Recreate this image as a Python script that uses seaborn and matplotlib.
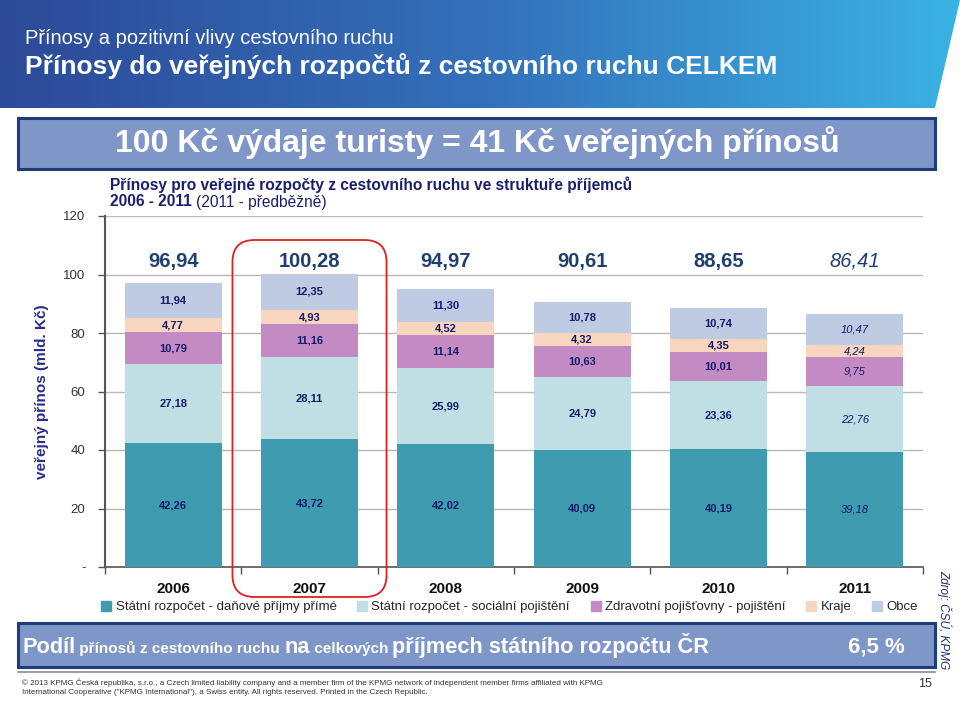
import numpy as np
import pandas as pd
import matplotlib
matplotlib.use("Agg")
import matplotlib.pyplot as plt
import seaborn as sns
from matplotlib import font_manager
from matplotlib.patches import FancyBboxPatch, Rectangle, Polygon
from matplotlib.lines import Line2D
from matplotlib.colors import LinearSegmentedColormap

# ---------------- data ----------------
years = ["2006", "2007", "2008", "2009", "2010", "2011"]
dan_prime = [42.26, 43.72, 42.02, 40.09, 40.19, 39.18]
soc_poj = [27.18, 28.11, 25.99, 24.79, 23.36, 22.76]
zdrav_poj = [10.79, 11.16, 11.14, 10.63, 10.01, 9.75]
kraje = [4.77, 4.93, 4.52, 4.32, 4.35, 4.24]
obce = [11.94, 12.35, 11.30, 10.78, 10.74, 10.47]
totals = ["96,94", "100,28", "94,97", "90,61", "88,65", "86,41"]
series_names = ["Státní rozpočet - daňové příjmy přímé",
                "Státní rozpočet - sociální pojištění",
                "Zdravotní pojišťovny - pojištění",
                "Kraje", "Obce"]
y_ticks = [0, 20, 40, 60, 80, 100, 120]
y_ticklabels = ["-", "20", "40", "60", "80", "100", "120"]

colors = ["#3F9BAF", "#BFDFE4", "#C48AC4", "#F7D5BF", "#BFCAE3"]

# ---------------- fonts ----------------
avail = {f.name for f in font_manager.fontManager.ttflist}
REG = "Liberation Sans" if "Liberation Sans" in avail else "DejaVu Sans"
NAR = "Liberation Sans Narrow" if "Liberation Sans Narrow" in avail else REG

sns.set_theme(style="white")
plt.rcParams["font.family"] = [REG, "DejaVu Sans"]

W, H = 960, 702
fig = plt.figure(figsize=(W / 100, H / 100), dpi=100)

def fx(px):
    return px / W

def fy(py):
    return 1 - py / H

# ---------------- header band with gradient ----------------
hax = fig.add_axes([0, fy(110), 1, 110 / H])
hax.set_xlim(0, W)
hax.set_ylim(110, 0)
hax.axis("off")
cmap = LinearSegmentedColormap.from_list("hdr", ["#2C4A98", "#3470BA", "#3AB2E4"])
grad = np.linspace(0, 1, 256).reshape(1, -1)
im = hax.imshow(grad, extent=[0, W, 110, 0], aspect="auto", cmap=cmap)
clip = Polygon([[0, 0], [W, 0], [935, 108], [0, 108]], closed=True,
               transform=hax.transData, facecolor="none", edgecolor="none")
hax.add_patch(clip)
im.set_clip_path(clip)
fig.text(fx(25), fy(39), "Přínosy a pozitivní vlivy cestovního ruchu",
         family=[NAR, "DejaVu Sans"], fontsize=14.5, color="white", va="center")
fig.text(fx(25), fy(66), "Přínosy do veřejných rozpočtů z cestovního ruchu CELKEM",
         family=[NAR, "DejaVu Sans"], fontsize=19, color="white",
         fontweight="bold", va="center")

# ---------------- title box ----------------
fig.patches.append(Rectangle((fx(18), fy(169)), fx(917), (169 - 118) / H,
                             transform=fig.transFigure, facecolor="#7F96C9",
                             edgecolor="#1D3B7D", linewidth=2.2))
fig.text(fx(477), fy(143), "100 Kč výdaje turisty = 41 Kč veřejných přínosů",
         fontsize=23, color="white", fontweight="bold", ha="center", va="center")

# chart subtitle
navy = "#1B1F6E"
fig.text(fx(110), fy(185), "Přínosy pro veřejné rozpočty z cestovního ruchu ve struktuře příjemců",
         fontsize=11.2, color=navy, fontweight="bold", va="center")
t1 = fig.text(fx(110), fy(202), "2006 - 2011", fontsize=11.2, color=navy,
              fontweight="bold", va="center")
fig.canvas.draw()
bb = t1.get_window_extent()
fig.text(bb.x1 / W + 0.004, fy(202), "(2011 - předběžně)", fontsize=11.2,
         color=navy, va="center")

# ---------------- main axes ----------------
ax = fig.add_axes([fx(105), fy(567), fx(923 - 105), (567 - 216) / H])

df = pd.DataFrame({"year": years, "s0": dan_prime, "s1": soc_poj,
                   "s2": zdrav_poj, "s3": kraje, "s4": obce})
cols = ["s0", "s1", "s2", "s3", "s4"]
cum = df[cols].cumsum(axis=1)

# draw from the top (largest cumulative) down so smaller stacks overlay
for i in range(4, -1, -1):
    sns.barplot(x=df["year"], y=cum[cols[i]], color=colors[i], ax=ax,
                width=0.71, linewidth=0, saturation=1, errorbar=None, zorder=3)

ax.set_ylim(0, 120)
ax.set_xlim(-0.5, 5.5)
ax.set_yticks(y_ticks)
ax.set_yticklabels(y_ticklabels, fontsize=9.5, color="#333333")
ax.yaxis.grid(True, color="#B8B8B8", linewidth=1)
ax.set_axisbelow(True)
for s in ["top", "right"]:
    ax.spines[s].set_visible(False)
ax.spines["left"].set_color("#555555")
ax.spines["left"].set_linewidth(1.5)
ax.spines["bottom"].set_color("#555555")
ax.spines["bottom"].set_linewidth(1.2)
ax.tick_params(axis="y", left=True, length=5, width=1, color="#555555", pad=9)
ax.set_xticks(range(len(years)))
ax.set_xticklabels(years, fontsize=11, fontweight="bold", color="#111111")
ax.tick_params(axis="x", bottom=False, pad=5)
# category boundary ticks
ax.set_xticks(np.arange(-0.5, 6.0, 1.0), minor=True)
ax.tick_params(axis="x", which="minor", bottom=True, length=5, width=1, color="#555555")
ax.set_xlabel("")
ax.set_ylabel("veřejný přínos (mld. Kč)", fontsize=11, fontweight="bold",
              color="#2A2C8C", labelpad=10)

# segment labels
seg_color = "#141A6A"
for j in range(len(years)):
    base = 0
    for i, c in enumerate(cols):
        v = df[c][j]
        style = "italic" if j == 5 else "normal"
        weight = "normal" if j == 5 else "bold"
        ax.text(j, base + v / 2, f"{v:.2f}".replace(".", ","), ha="center",
                va="center", fontsize=8, color=seg_color, fontweight=weight,
                fontstyle=style, zorder=5)
        base += v
    ax.text(j, 104.5, totals[j], ha="center", va="center", fontsize=14.5,
            color="#1F3F70", fontweight="normal" if j == 5 else "bold",
            fontstyle="italic" if j == 5 else "normal", zorder=5)

# red rounded highlight around 2007
fig.canvas.draw()
p0 = ax.transData.transform((1 - 0.565, 0))
p1 = ax.transData.transform((1 + 0.565, 0))
x0d, x1d = p0[0], p1[0]
ytop = H - 240
ybot = H - 597
hl = FancyBboxPatch((x0d, ybot), x1d - x0d, ytop - ybot,
                    boxstyle="round,pad=0,rounding_size=22",
                    transform=None, facecolor="none", edgecolor="#E02020",
                    linewidth=1.3, zorder=10)
fig.patches.append(hl)

# legend
handles = [Line2D([0], [0], marker="s", linestyle="none", markersize=6.5,
                  markerfacecolor=colors[i], markeredgecolor=colors[i])
           for i in range(5)]
fig.legend(handles, series_names, loc="center left",
           bbox_to_anchor=(fx(101), fy(607)), ncol=5, frameon=False,
           prop={"family": [NAR, "DejaVu Sans"], "size": 9.5},
           handletextpad=0.3, columnspacing=1.55, handlelength=0.8,
           borderaxespad=0, borderpad=0)

# source
fig.text(fx(944), fy(620), "Zdroj: ČSÚ, KPMG", rotation=-90, fontsize=8.5,
         fontstyle="italic", color="#1F2F7A", ha="center", va="center")

# bottom box
fig.patches.append(Rectangle((fx(18), fy(667)), fx(917), (667 - 623) / H,
                             transform=fig.transFigure, facecolor="#7F96C9",
                             edgecolor="#1D3B7D", linewidth=2.2))
fig.lines.append(Line2D([fx(18), fx(935)], [fy(672), fy(672)],
                        transform=fig.transFigure, color="#A0A0A0", linewidth=1.5))
parts = [("Podíl", 15.7, "bold"), (" přínosů z cestovního ruchu ", 11, "bold"),
         ("na", 15.7, "bold"), (" celkových ", 11, "bold"),
         ("příjmech státního rozpočtu ČR", 15.7, "bold")]
xcur = 22
r = fig.canvas.get_renderer()
for txt, sz, wt in parts:
    t = fig.text(fx(xcur), fy(653), txt, fontsize=sz, fontweight=wt,
                 color="white", va="baseline", ha="left",
                 family=[NAR, "DejaVu Sans"])
    xcur = t.get_window_extent(renderer=r).x1
fig.text(fx(905), fy(653), "6,5 %", fontsize=16, fontweight="bold",
         color="white", va="baseline", ha="right", family=[NAR, "DejaVu Sans"])

# footer
fig.text(fx(22), fy(683), "© 2013 KPMG Česká republika, s.r.o., a Czech limited liability company and a member firm of the KPMG network of independent member firms affiliated with KPMG",
         fontsize=5.8, color="#333333", va="center", family=[NAR, "DejaVu Sans"])
fig.text(fx(22), fy(693), "International Cooperative (\"KPMG International\"), a Swiss entity. All rights reserved. Printed in the Czech Republic.",
         fontsize=5.8, color="#333333", va="center", family=[NAR, "DejaVu Sans"])
fig.text(fx(932), fy(684), "15", fontsize=9, color="#333333", va="center",
         ha="right", family=[NAR, "DejaVu Sans"])

fig.savefig("out.png", dpi=100)
